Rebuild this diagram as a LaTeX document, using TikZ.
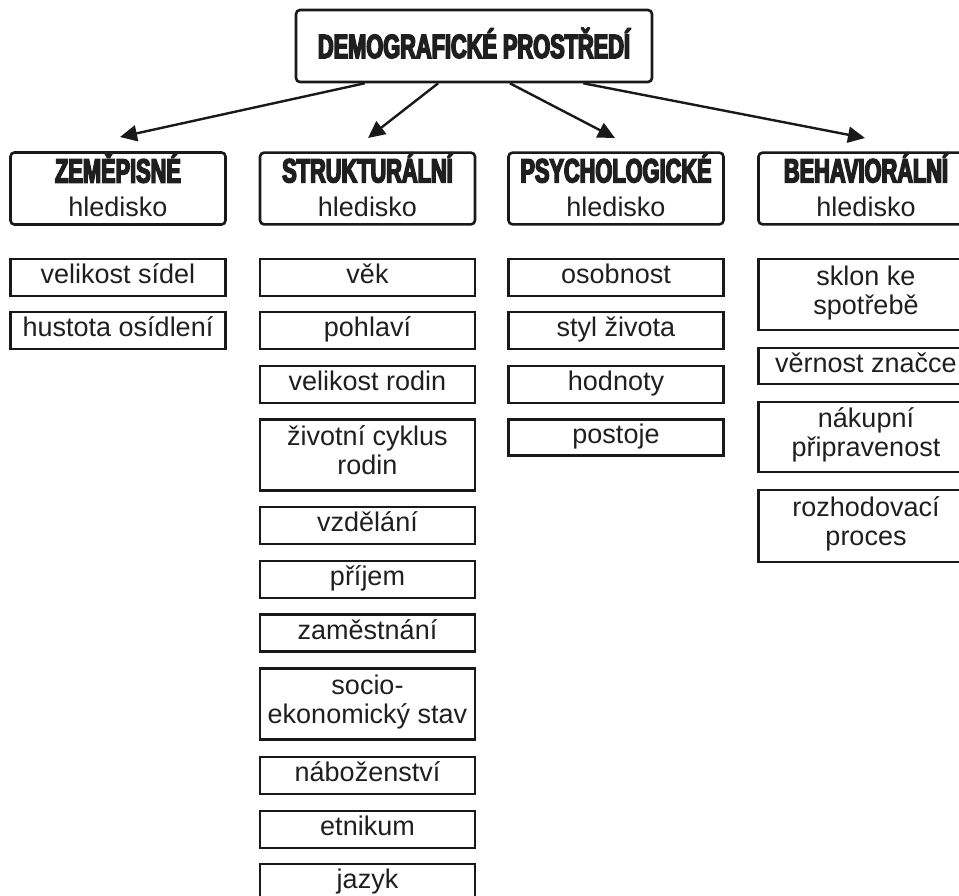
\documentclass[tikz,border=0pt]{standalone}
\usepackage{fontspec}
\setmainfont{Liberation Sans}
\newfontfamily\headfont[FakeStretch=0.65,FakeBold=4.5]{Liberation Sans}
\usetikzlibrary{arrows.meta,calc}

% struts that fix the first baseline and the last depth of every box text
\newcommand\itemtop{\rule{0pt}{21pt}}
\newcommand\itembot{\rule[-9pt]{0pt}{9pt}}
\newcommand\headtop{\rule{0pt}{31pt}}
\newcommand\headbot{\rule[-8pt]{0pt}{8pt}}
\newcommand\headword[1]{{\headfont\bfseries\fontsize{33.5}{30}\selectfont #1}}

\begin{document}
\begin{tikzpicture}[x=1pt,y=-1pt,
  line/.style={draw=black!90, line width=2.6pt},
  itembox/.style={line, minimum width=215pt, minimum height=37pt, inner sep=0pt,
    align=center, font=\fontsize{27}{29}\selectfont, text=black!88,
    execute at begin node=\itemtop, execute at end node=\itembot},
  tallbox/.style={itembox, minimum height=71pt},
  headbox/.style={line, rounded corners=4pt, minimum width=215pt, minimum height=71pt,
    inner sep=0pt, align=center, font=\fontsize{27}{34}\selectfont, text=black!88,
    execute at begin node=\headtop, execute at end node=\headbot},
  titlebox/.style={line, rounded corners=4pt, minimum width=356pt, minimum height=72pt,
    inner sep=0pt, text height=24pt, text depth=0pt, text=black!88},
  arr/.style={draw=black!90, line width=2.4pt, -{Triangle[length=17pt,width=16pt]}}
]
\useasboundingbox (0,0) rectangle (959,896);

% root
\node[titlebox] (top) at (474,46) {\headword{DEMOGRAFICKÉ PROSTŘEDÍ}};

% four points of view
\node[headbox] (h1) at (118,188.5)   {\headword{ZEMĚPISNÉ}\\hledisko};
\node[headbox] (h2) at (367.5,188.5) {\headword{STRUKTURÁLNÍ}\\hledisko};
\node[headbox] (h3) at (616,188.5)   {\headword{PSYCHOLOGICKÉ}\\hledisko};
\node[headbox] (h4) at (866,188.5)   {\headword{BEHAVIORÁLNÍ}\\hledisko};

% arrow tips above the headers
\coordinate (t1) at (120,137);
\coordinate (t2) at (368,138);
\coordinate (t3) at (615,138);
\coordinate (t4) at (865,138);

\draw[arr] ($(top.south west)!0.195!(top.south east)$) -- (t1);
\draw[arr] ($(top.south west)!0.40!(top.south east)$) -- (t2);
\draw[arr] ($(top.south west)!0.60!(top.south east)$) -- (t3);
\draw[arr] ($(top.south west)!0.805!(top.south east)$) -- (t4);

% geographic
\node[itembox] (g1) at (118,277.5) {velikost sídel};
\node[itembox] (g2) at (118,330.5) {hustota osídlení};

% structural
\node[itembox] (s1)  at (367.5,277.5) {věk};
\node[itembox] (s2)  at (367.5,330.5) {pohlaví};
\node[itembox] (s3)  at (367.5,384.5) {velikost rodin};
\node[tallbox] (s4)  at (367.5,455)   {životní cyklus\\rodin};
\node[itembox] (s5)  at (367.5,525.5) {vzdělání};
\node[itembox] (s6)  at (367.5,579.5) {příjem};
\node[itembox] (s7)  at (367.5,633)   {zaměstnání};
\node[tallbox] (s8)  at (367.5,704)   {socio-\\ekonomický stav};
\node[itembox] (s9)  at (367.5,775.5) {náboženství};
\node[itembox] (s10) at (367.5,829.5) {etnikum};
\node[itembox] (s11) at (367.5,882.5) {jazyk};

% psychological
\node[itembox] (p1) at (616,277.5) {osobnost};
\node[itembox] (p2) at (616,330.5) {styl života};
\node[itembox] (p3) at (616,384.5) {hodnoty};
\node[itembox, minimum height=36pt] (p4) at (616,437.5) {postoje};

% behavioural
\node[tallbox] (b1) at (866,294.5) {sklon ke\\spotřebě};
\node[itembox, minimum height=36pt] (b2) at (866,366) {věrnost značce};
\node[tallbox, minimum height=70pt] (b3) at (866,437) {nákupní\\připravenost};
\node[tallbox, minimum height=72pt] (b4) at (866,526) {rozhodovací\\proces};
\end{tikzpicture}
\end{document}
